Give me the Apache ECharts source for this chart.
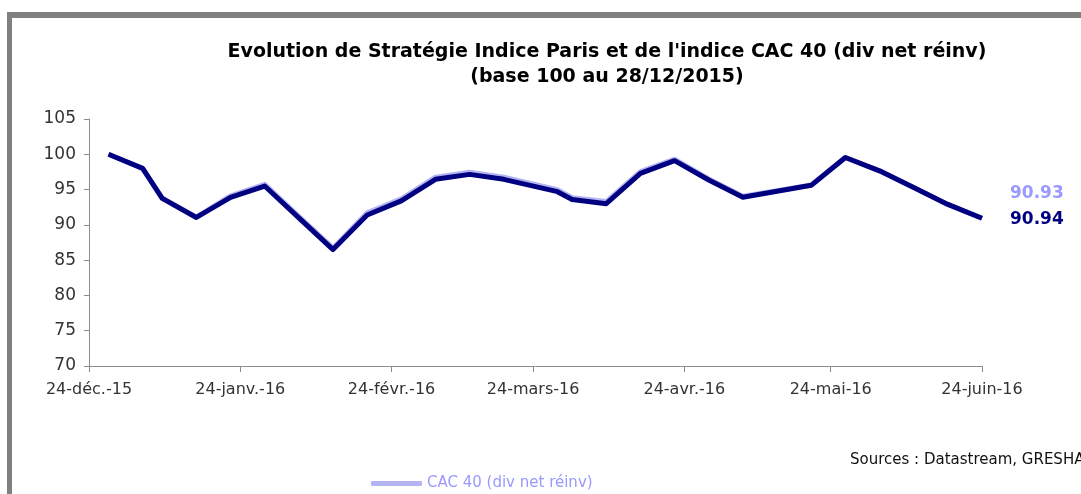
<!DOCTYPE html>
<html>
<head>
<meta charset="utf-8">
<script src="https://cdn.jsdelivr.net/npm/echarts@6/dist/echarts.min.js"></script>
<style>
  html, body { margin: 0; padding: 0; background: #fff; }
  #chart { width: 1081px; height: 494px; }
</style>
</head>
<body>
<div id="chart"></div>
<script>
'use strict';

/*-----------------------------------------------
|   Data
-----------------------------------------------*/
const dates = [
  '2015-12-28', '2016-01-04', '2016-01-08', '2016-01-15', '2016-01-22',
  '2016-01-29', '2016-02-05', '2016-02-12', '2016-02-19', '2016-02-26',
  '2016-03-04', '2016-03-11', '2016-03-18', '2016-03-29', '2016-04-01',
  '2016-04-08', '2016-04-15', '2016-04-22', '2016-04-29', '2016-05-06',
  '2016-05-13', '2016-05-20', '2016-05-27', '2016-06-03', '2016-06-10',
  '2016-06-17', '2016-06-24',
];
const strategieValues = [
  100, 98.0, 93.75, 91.05, 93.9, 95.5, 91.0, 86.5, 91.4, 93.4,
  96.45, 97.15, 96.45, 94.7, 93.6, 93.0, 97.3, 99.1, 96.35, 93.9,
  94.75, 95.6, 99.55, 97.65, 95.3, 92.9, 90.94,
];
const cacValues = [
  100, 97.95, 93.8, 91.1, 94.1, 95.75, 91.2, 86.7, 91.7, 93.7,
  96.75, 97.45, 96.75, 95.0, 93.85, 93.3, 97.55, 99.3, 96.5, 94.05,
  94.85, 95.65, 99.55, 97.65, 95.3, 92.9, 90.93,
];
const tickDates = [
  '2015-12-24', '2016-01-24', '2016-02-24', '2016-03-24',
  '2016-04-24', '2016-05-24', '2016-06-24',
];
const tickLabels = [
  '24-déc.-15', '24-janv.-16', '24-févr.-16', '24-mars-16',
  '24-avr.-16', '24-mai-16', '24-juin-16',
];

// dates become day numbers so a plain value axis can place them
const DAY = 24 * 3600 * 1000;
const toDay = (s) => Math.round(Date.parse(s + 'T00:00:00Z') / DAY);
const tickDays = tickDates.map(toDay);
const pairs = (values) => dates.map((d, i) => [toDay(d), values[i]]);

const Color = {
  NAVY: '#000080',
  CAC_LINE: '#b4b4f4',
  CAC_TEXT: '#9999ff',
  AXIS: '#8c8c8c',
  LABEL: '#333333',
  FRAME: '#808080',
};
const FONT = 'DejaVu Sans';

/*-----------------------------------------------
|   Chart
-----------------------------------------------*/
const chart = echarts.init(document.getElementById('chart'));

const endLabel = (color, dy) => ({
  show: true,
  formatter: (p) => p.value[1].toFixed(2),
  color,
  fontFamily: FONT,
  fontSize: 17,
  fontWeight: 'bold',
  distance: 28,
  offset: [0, dy],
});

chart.setOption({
  animation: false,
  textStyle: { fontFamily: FONT },
  title: {
    text: "Evolution de Stratégie Indice Paris et de l'indice CAC 40 (div net réinv)\n(base 100 au 28/12/2015)",
    left: 602,
    top: 35,
    textAlign: 'center',
    textStyle: {
      fontFamily: FONT,
      fontSize: 19,
      fontWeight: 'bold',
      color: '#000',
      lineHeight: 25,
    },
  },
  legend: {
    data: ['CAC 40 (div net réinv)'],
    left: 366,
    top: 471,
    icon: 'roundRect',
    itemWidth: 51,
    itemHeight: 5,
    itemGap: 6,
    textStyle: { color: Color.CAC_TEXT, fontSize: 15, fontFamily: FONT },
  },
  grid: { left: 89, right: 99, top: 119, bottom: 128 },
  xAxis: {
    type: 'value',
    min: tickDays[0],
    max: tickDays[tickDays.length - 1],
    axisLine: { lineStyle: { color: Color.AXIS, width: 1 } },
    axisTick: {
      show: true,
      length: 6,
      customValues: tickDays,
      lineStyle: { color: Color.AXIS },
    },
    axisLabel: {
      customValues: tickDays,
      color: Color.LABEL,
      fontSize: 16,
      margin: 16,
      formatter: (value) => {
        const i = tickDays.indexOf(value);
        return i >= 0 ? tickLabels[i] : '';
      },
    },
    splitLine: { show: false },
  },
  yAxis: {
    type: 'value',
    min: 70,
    max: 105,
    interval: 5,
    axisLine: { show: true, lineStyle: { color: Color.AXIS, width: 1 } },
    axisTick: { show: true, length: 5, lineStyle: { color: Color.AXIS } },
    axisLabel: { color: Color.LABEL, fontSize: 17, margin: 13 },
    splitLine: { show: false },
  },
  series: [
    {
      name: 'CAC 40 (div net réinv)',
      type: 'line',
      data: pairs(cacValues),
      showSymbol: false,
      color: Color.CAC_LINE,
      lineStyle: { color: Color.CAC_LINE, width: 5, join: 'round' },
      endLabel: endLabel(Color.CAC_TEXT, -25),
    },
    {
      name: 'Stratégie Indice Paris',
      type: 'line',
      data: pairs(strategieValues),
      showSymbol: false,
      color: Color.NAVY,
      lineStyle: { color: Color.NAVY, width: 5, join: 'round' },
      endLabel: endLabel(Color.NAVY, 1),
    },
  ],
  graphic: [
    // Frame of the original sheet (top and left edges)
    {
      type: 'rect',
      shape: { x: 7, y: 12, width: 1074, height: 6 },
      style: { fill: Color.FRAME },
      silent: true,
    },
    {
      type: 'rect',
      shape: { x: 7, y: 12, width: 5, height: 482 },
      style: { fill: Color.FRAME },
      silent: true,
    },
    {
      type: 'text',
      left: 850,
      top: 453,
      style: {
        text: 'Sources : Datastream, GRESHAM',
        font: '15px "DejaVu Sans"',
        fill: '#111',
      },
      silent: true,
    },
  ],
});
</script>
</body>
</html>
